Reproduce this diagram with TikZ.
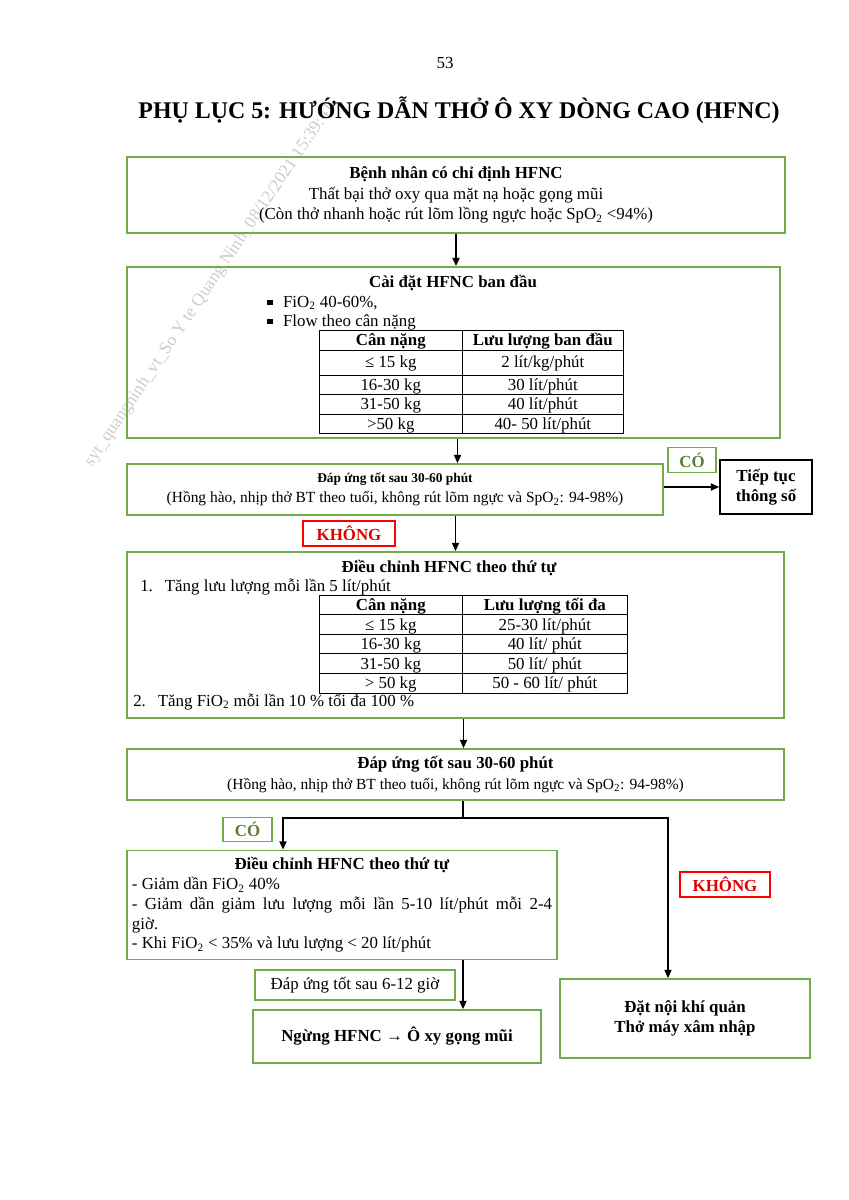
\documentclass[tikz,border=0pt]{standalone}
\usepackage{fontspec}
\setmainfont{Liberation Serif}
\usepackage{array}
\usepackage{xcolor}
\usetikzlibrary{arrows.meta,positioning}
\definecolor{boxgreen}{HTML}{70AD47}
\definecolor{yesgreen}{HTML}{538135}
\definecolor{nored}{HTML}{E00000}
\newcommand{\sqbullet}{\rule[0.3ex]{0.32em}{0.32em}}
\newcommand{\tallrow}{\rule[-5pt]{0pt}{17.5pt}}
\newcommand{\headcell}[1]{\smash{\textbf{#1}}}
\newcolumntype{C}[1]{>{\centering\arraybackslash\rule[-2.8pt]{0pt}{13.5pt}}p{#1}}
\renewcommand{\arraystretch}{0.5}

\begin{document}
\begin{tikzpicture}[
  x=0.025cm, y=-0.025cm,
  every node/.style={font=\fontsize{12}{14.5}\selectfont},
  box/.style={draw=boxgreen, line width=1.1pt, align=center, inner sep=0pt},
  yesbox/.style={draw=boxgreen, line width=0.8pt, text=yesgreen,
                 font=\fontsize{12}{14.5}\selectfont\bfseries, minimum height=0.62cm},
  nobox/.style={draw=red, line width=1pt, text=nored,
                font=\fontsize{12}{14.5}\selectfont\bfseries, minimum height=0.62cm},
  arr/.style={-{Triangle[length=6pt,width=5pt]}, line width=1.3pt}
]
  \useasboundingbox (0,0) rectangle (848,1200);

  % watermark
  \node[rotate=56, text=gray!40, font=\fontsize{12.5}{14}\selectfont] (wmark) at (210,285)
    {syt\_quangninh\_vt\_So Y te Quang Ninh\_08/12/2021 15:39:41};

  \node (pageno) at (445,63) {53};
  \node[font=\fontsize{17}{20}\selectfont\bfseries] (title) at (459,110)
    {PHỤ LỤC 5: HƯỚNG DẪN THỞ Ô XY DÒNG CAO (HFNC)};

  % boxes
  \node[box, minimum width=16.45cm, minimum height=1.9cm] (indic) at (456,195)
    {\textbf{Bệnh nhân có chỉ định HFNC}\\Thất bại thở oxy qua mặt nạ hoặc gọng mũi\\
     (Còn thở nhanh hoặc rút lõm lồng ngực hoặc SpO\textsubscript{2} <94\%)};

  \node[box, minimum width=16.325cm, minimum height=4.275cm] (setup) at (453.5,352.5) {};
  \node[anchor=mid, font=\fontsize{12}{14.5}\selectfont\bfseries] (setuptitle) at (453,284) {Cài đặt HFNC ban đầu};
  \node[anchor=mid west, inner sep=0pt] (fio) at (267,304) {\sqbullet\hspace{0.26cm}FiO\textsubscript{2} 40-60\%,};
  \node[anchor=mid west, inner sep=0pt] (flow) at (267,323) {\sqbullet\hspace{0.26cm}Flow theo cân nặng};
  \node[inner sep=0pt] (tab1) at (471.5,382) {%
    \begin{tabular}{|C{3.13cm}|C{3.6cm}|}\hline
      \headcell{Cân nặng} & \headcell{Lưu lượng ban đầu}\\\hline
      \tallrow≤ 15 kg & 2 lít/kg/phút\\\hline
      16-30 kg & 30 lít/phút\\\hline
      31-50 kg & 40 lít/phút\\\hline
      >50 kg & 40- 50 lít/phút\\\hline
    \end{tabular}};

  \node[box, minimum width=13.4cm, minimum height=1.275cm] (resp1) at (395,489.5)
    {\fontsize{9.5}{14}\selectfont\textbf{Đáp ứng tốt sau 30-60 phút}\\
     \fontsize{11}{14}\selectfont(Hồng hào, nhịp thở BT theo tuổi, không rút lõm ngực và SpO\textsubscript{2}: 94-98\%)};
  \node[yesbox, minimum width=1.2cm] (yes1) at (692,460) {CÓ};
  \node[draw, line width=1pt, minimum width=2.3cm, minimum height=1.35cm, align=center,
        font=\fontsize{12}{14.5}\selectfont\bfseries] (keep) at (766,487) {Tiếp tục\\thông số};
  \node[nobox, minimum width=2.3cm] (no1) at (349,533.5) {KHÔNG};

  \node[box, minimum width=16.425cm, minimum height=4.15cm] (adj1) at (455.5,635) {};
  \node[anchor=mid, font=\fontsize{12}{14.5}\selectfont\bfseries] (adj1title) at (449,569) {Điều chỉnh HFNC theo thứ tự};
  \node[anchor=mid west, inner sep=0pt] (step1) at (140,588) {1.\hspace{0.3cm}Tăng lưu lượng mỗi lần 5 lít/phút};
  \node[inner sep=0pt] (tab2) at (473.5,644) {%
    \begin{tabular}{|C{3.13cm}|C{3.7cm}|}\hline
      \headcell{Cân nặng} & \headcell{Lưu lượng tối đa}\\\hline
      ≤ 15 kg & 25-30 lít/phút\\\hline
      16-30 kg & 40 lít/ phút\\\hline
      31-50 kg & 50 lít/ phút\\\hline
      > 50 kg & 50 - 60 lít/ phút\\\hline
    \end{tabular}};
  \node[anchor=mid west, inner sep=0pt] (step2) at (133,703) {2.\hspace{0.3cm}Tăng FiO\textsubscript{2} mỗi lần 10 \% tối đa 100 \%};

  \node[box, minimum width=16.425cm, minimum height=1.275cm] (resp2) at (455.5,774.5)
    {\textbf{Đáp ứng tốt sau 30-60 phút}\\
     \fontsize{11}{14}\selectfont(Hồng hào, nhịp thở BT theo tuổi, không rút lõm ngực và SpO\textsubscript{2}: 94-98\%)};

  \coordinate (split) at (463,818);
  \coordinate (yesturn) at (283,818);
  \coordinate (noturn) at (668,818);
  \node[yesbox, minimum width=1.225cm] (yes2) at (247.5,829.5) {CÓ};

  \node[box, minimum width=10.75cm, minimum height=2.725cm, text width=10.5cm,
        align=justify, font=\fontsize{12}{14}\selectfont] (adj2) at (342,905)
    {\centerline{\textbf{Điều chỉnh HFNC theo thứ tự}}
     - Giảm dần FiO\textsubscript{2} 40\%\\
     - Giảm dần giảm lưu lượng mỗi lần 5-10 lít/phút mỗi 2-4\linebreak giờ.\\
     - Khi FiO\textsubscript{2} < 35\% và lưu lượng < 20 lít/phút};
  \node[nobox, minimum width=2.25cm] (no2) at (725,884.5) {KHÔNG};

  \node[box, line width=0.8pt, minimum width=5cm, minimum height=0.75cm] (resp3) at (355,985) {Đáp ứng tốt sau 6-12 giờ};
  \node[box, minimum width=7.2cm, minimum height=1.325cm, font=\fontsize{12}{14.5}\selectfont\bfseries] (stop) at (397,1036.5)
    {Ngừng HFNC → Ô xy gọng mũi};
  \node[box, minimum width=6.25cm, minimum height=1.975cm, font=\fontsize{12}{14.5}\selectfont\bfseries] (intub) at (685,1018.5)
    {Đặt nội khí quản\\Thở máy xâm nhập};

  % connectors
  \draw[arr] (indic.south) -- (setup.north -| indic.south);
  \draw[arr] ([xshift=0.1cm]setup.south) -- ([xshift=0.1cm]setup.south |- resp1.north);
  \draw[arr] (resp1.east |- keep.west) -- (keep.west);
  \draw[arr] (resp1.south -| adj1.north) -- (adj1.north);
  \draw[arr] ([xshift=0.2cm]adj1.south) -- ([xshift=0.2cm]adj1.south |- resp2.north);
  \draw[line width=1.3pt] (resp2.south -| split) -- (split);
  \draw[arr] (split) -- (yesturn) -- (yesturn |- adj2.north);
  \draw[arr] (split) -- (noturn) -- (noturn |- intub.north);
  \draw[arr] (adj2.south -| split) -- (stop.north -| split);
\end{tikzpicture}
\end{document}
